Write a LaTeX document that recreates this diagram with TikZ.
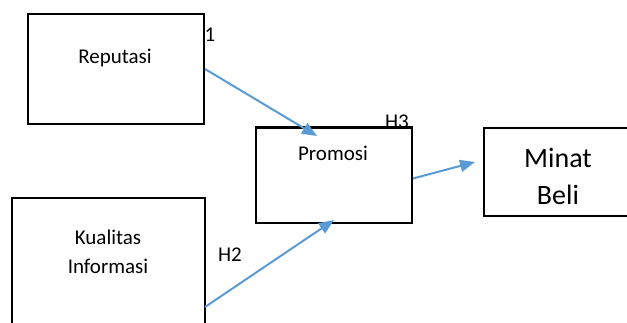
\documentclass[tikz,border=0pt]{standalone}
\usepackage{fontspec}
\setmainfont{Carlito}
\usetikzlibrary{arrows.meta}
\definecolor{arrowblue}{HTML}{5B9BD5}
\tikzset{
  box/.style={draw=black, line width=2pt, fill=none, inner sep=0pt, anchor=north west},
  lbl/.style={inner sep=0pt, font=\fontsize{21}{29}\selectfont, align=center},
  biglbl/.style={inner sep=0pt, font=\fontsize{28}{37}\selectfont, align=center},
  arr/.style={draw=arrowblue, line width=2pt, -{Triangle[length=15pt,width=12pt]}}
}
\begin{document}
\begin{tikzpicture}[x=1pt,y=-1pt]
\useasboundingbox (0,0) rectangle (627,322);
\clip (0,0) rectangle (627,322);
\fill[white] (0,0) rectangle (627,322);
% boxes
\node[box, minimum width=176pt, minimum height=110pt] (rep) at (27,13) {};
\node[box, minimum width=156pt, minimum height=95pt] (pro) at (255,127) {};
\node[box, minimum width=193pt, minimum height=150pt] (kual) at (11,197) {};
\node[box, minimum width=160pt, minimum height=88pt] (minat) at (483,127) {};
% labels
\node[lbl] (repT) at (115,58) {Reputasi};
\node[lbl] (proT) at (333,153) {Promosi};
\node[lbl] (kualT) at (108,252) {Kualitas\\Informasi};
\node[biglbl] (minatT) at (558,176) {Minat\\Beli};
\node[lbl] (one) at (210,35) {1};
\node[lbl] (h2) at (230,255) {H2};
\node[lbl] (h3) at (397,122) {H3};
\draw[line width=2pt] (pro.north west) -- (pro.north east);
% arrow endpoints
\coordinate (t1) at (317,136);
\coordinate (s2) at (205,307);
\coordinate (t2) at (334,220);
\coordinate (t3) at (475,162);
% connectors
\draw[arr] (rep.east) -- (t1);
\draw[arr] (s2) -- (t2);
\draw[arr] ([yshift=-3pt]pro.east) -- (t3);
\end{tikzpicture}
\end{document}
